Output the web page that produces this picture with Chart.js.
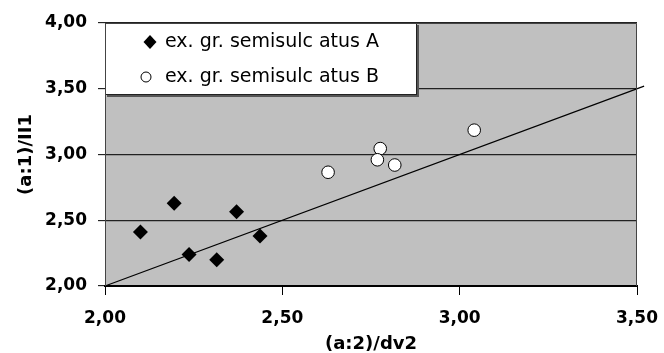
<!DOCTYPE html>
<html>
<head>
<meta charset="utf-8">
<script src="https://cdn.jsdelivr.net/npm/chart.js@4"></script>
<style>
  html, body { margin: 0; padding: 0; background: #fff; }
  #wrap { width: 664px; height: 353px; position: relative; }
</style>
</head>
<body>
<div id="wrap"><canvas id="chart"></canvas></div>
<script>
// data
const groupA_x = [2.10, 2.195, 2.237, 2.315, 2.371, 2.437];
const groupA_y = [2.41, 2.63, 2.24, 2.20, 2.565, 2.38];
const groupB_x = [2.629, 2.776, 2.768, 2.817, 3.041];
const groupB_y = [2.865, 3.045, 2.96, 2.92, 3.185];
const lineX = [2.00, 3.52];
const lineY = [2.00, 3.52];
const labelA = "ex. gr. semisulc atus A";
const labelB = "ex. gr. semisulc atus B";
const xTitle = "(a:2)/dv2";
const yTitle = "(a:1)/II1";
const axisMin = 2.0, axisMax = 3.5, yMax = 4.0, step = 0.5;

const pts = (xs, ys)=>xs.map((x,i)=>({x, y: ys[i]}));
const fmt = (v)=>Number(v).toFixed(2).replace(".", ",");
const FONT = "'DejaVu Sans', Arial, sans-serif";

// grey plot background + frame
const plotFrame = {
  id: "plotFrame",
  beforeDraw(chart){
    const {ctx, chartArea: a} = chart;
    ctx.save();
    ctx.fillStyle = "#c0c0c0";
    ctx.fillRect(a.left, a.top, a.right - a.left, a.bottom - a.top);
    ctx.restore();
  },
  afterDraw(chart){
    const {ctx, chartArea: a} = chart;
    ctx.save();
    ctx.strokeStyle = "#444";
    ctx.lineWidth = 1;
    ctx.beginPath();
    ctx.moveTo(a.left + 0.5, a.bottom);
    ctx.lineTo(a.left + 0.5, a.top + 0.5);
    ctx.lineTo(a.right - 0.5, a.top + 0.5);
    ctx.lineTo(a.right - 0.5, a.bottom);
    ctx.stroke();
    ctx.restore();
  }
};

// legend box drawn inside the plot, top-left
const boxLegend = {
  id: "boxLegend",
  afterDatasetsDraw(chart){
    const {ctx, chartArea: a} = chart;
    const x0 = a.left, y0 = a.top, w = 312, h = 72;
    ctx.save();
    ctx.fillStyle = "#555";
    ctx.fillRect(x0 + 2, y0 + 2, w, h);
    ctx.fillStyle = "#fff";
    ctx.fillRect(x0, y0, w, h);
    ctx.strokeStyle = "#222";
    ctx.lineWidth = 1;
    ctx.strokeRect(x0 + 0.5, y0 + 0.5, w - 1, h - 1);

    const ds = chart.data.datasets;
    const rows = [y0 + 19, y0 + 54];
    // diamond
    const dx = x0 + 45, dy = rows[0];
    ctx.fillStyle = "#000";
    ctx.beginPath();
    ctx.moveTo(dx - 6.5, dy);
    ctx.lineTo(dx, dy - 7);
    ctx.lineTo(dx + 6.5, dy);
    ctx.lineTo(dx, dy + 7);
    ctx.closePath();
    ctx.fill();
    // circle
    ctx.fillStyle = "#fff";
    ctx.strokeStyle = "#000";
    ctx.beginPath();
    ctx.arc(x0 + 41, rows[1], 5, 0, Math.PI * 2);
    ctx.fill();
    ctx.stroke();

    ctx.fillStyle = "#000";
    ctx.font = "19px " + FONT;
    ctx.textBaseline = "middle";
    ctx.textAlign = "left";
    ctx.fillText(ds[0].label, x0 + 60, rows[0]);
    ctx.fillText(ds[1].label, x0 + 60, rows[1]);
    ctx.restore();
  }
};

new Chart(document.getElementById("chart"), {
  type: "scatter",
  data: {
    datasets: [
      {
        label: labelA,
        data: pts(groupA_x, groupA_y),
        pointStyle: "rectRot",
        pointRadius: 7.5,
        backgroundColor: "#000",
        borderColor: "#000",
        borderWidth: 0
      },
      {
        label: labelB,
        data: pts(groupB_x, groupB_y),
        pointStyle: "circle",
        pointRadius: 6.3,
        backgroundColor: "#fff",
        borderColor: "#000",
        borderWidth: 1
      },
      {
        label: "trend",
        type: "line",
        data: pts(lineX, lineY),
        showLine: true,
        pointRadius: 0,
        borderColor: "#000",
        borderWidth: 1.2,
        fill: false,
        clip: false
      }
    ]
  },
  options: {
    responsive: true,
    maintainAspectRatio: false,
    animation: false,
    layout: { padding: { top: 23, right: 27, bottom: 0, left: 0 } },
    plugins: {
      legend: { display: false },
      tooltip: { enabled: false }
    },
    scales: {
      x: {
        type: "linear",
        min: axisMin,
        max: axisMax,
        afterFit: (s)=>{ s.height = 67; s.paddingLeft = 0; s.paddingRight = 0; },
        ticks: {
          stepSize: step,
          color: "#000",
          padding: 13,
          maxRotation: 0,
          font: { family: FONT, size: 17, weight: "bold" },
          callback: (v)=>fmt(v)
        },
        grid: {
          drawOnChartArea: false,
          drawTicks: true,
          tickLength: 9,
          tickColor: "#000",
          tickWidth: 1
        },
        border: { display: true, color: "#000", width: 2 },
        title: {
          display: true,
          text: xTitle,
          color: "#000",
          padding: { top: 0, bottom: 0 },
          font: { family: FONT, size: 18, weight: "bold", lineHeight: 1.0 }
        }
      },
      y: {
        type: "linear",
        min: axisMin,
        max: yMax,
        afterFit: (s)=>{ s.width = 105; s.paddingTop = 0; s.paddingBottom = 0; },
        ticks: {
          stepSize: step,
          color: "#000",
          padding: 11,
          font: { family: FONT, size: 17, weight: "bold" },
          callback: (v)=>fmt(v)
        },
        grid: {
          color: "#222",
          lineWidth: 1.3,
          drawTicks: true,
          tickLength: 7,
          tickColor: "#000",
          tickWidth: 1
        },
        border: { display: false },
        title: {
          display: true,
          text: yTitle,
          color: "#000",
          padding: { top: 16, bottom: 0 },
          font: { family: FONT, size: 18, weight: "bold", lineHeight: 1.2 }
        }
      }
    }
  },
  plugins: [plotFrame, boxLegend]
});
</script>
</body>
</html>
